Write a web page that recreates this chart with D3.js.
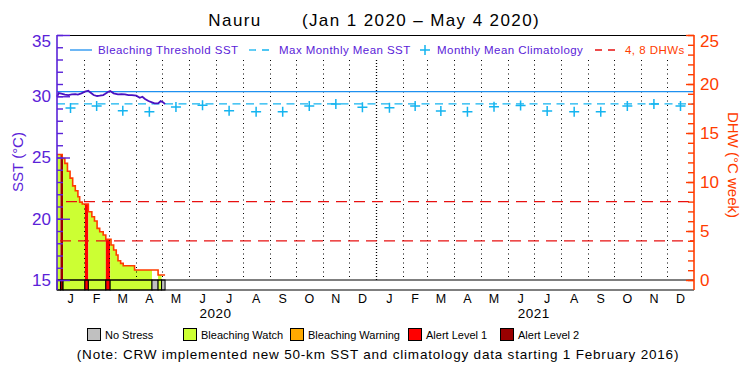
<!DOCTYPE html>
<html>
<head>
<meta charset="utf-8">
<script src="https://cdn.jsdelivr.net/npm/d3@7"></script>
<style>
  body { margin: 0; background: #fff; }
  svg { display: block; font-family: "Liberation Sans", Arial, sans-serif; }
</style>
</head>
<body>
<div class="chart"></div>
<script>
// SST (deg C), day offsets from Jan 1 2020
const sstDay = [0, 2, 5, 9, 13, 17, 21, 24, 28, 32, 36, 38, 42, 46, 49, 53, 55, 59, 61, 65, 70, 74, 78, 82, 86, 91, 95, 98, 101, 105, 109, 112, 116, 119, 122, 124];
const sstValue = [29.96, 30.26, 30.22, 30.14, 30.10, 30.16, 30.18, 30.14, 30.24, 30.37, 30.45, 30.32, 30.10, 30.02, 30.05, 30.10, 30.18, 30.37, 30.43, 30.24, 30.16, 30.18, 30.16, 30.10, 30.10, 30.05, 29.88, 29.96, 29.78, 29.61, 29.50, 29.42, 29.42, 29.61, 29.50, 29.36];

// monthly mean climatology, Jan 2020 .. Dec 2021
const climMonths = ['2020-01','2020-02','2020-03','2020-04','2020-05','2020-06','2020-07','2020-08','2020-09','2020-10','2020-11','2020-12',
                    '2021-01','2021-02','2021-03','2021-04','2021-05','2021-06','2021-07','2021-08','2021-09','2021-10','2021-11','2021-12'];
const climValue = [29.04, 29.20, 28.82, 28.74, 29.12, 29.26, 28.82, 28.74, 28.74, 29.20, 29.37, 29.10,
                   29.07, 29.20, 28.80, 28.74, 29.15, 29.24, 28.80, 28.74, 28.74, 29.20, 29.37, 29.20];
const mmm = 29.37;
const threshold = 30.37;
const dhwLines = [4, 8];

// DHW step values (day where the value starts)
const dhwDay = [0, 6, 9, 12, 15, 18, 21, 24, 26, 29, 36, 40, 43, 46, 49, 53, 56, 62, 65, 68, 70, 73, 76, 89, 116];
const dhwValue = [12.8, 12.4, 11.9, 11.1, 10.4, 9.6, 9.1, 8.5, 7.95, 7.76, 6.97, 6.46, 6.02, 5.27, 4.93, 4.59, 4.15, 3.57, 3.06, 2.55, 1.97, 1.70, 1.46, 1.02, 0.51];
const lastDay = 124;

// daily stress level periods (0 no stress .. 4 alert level 2)
const alertStart = [0, 4, 7, 32, 36, 56, 61, 109, 116, 120];
const alertLevel = [1, 4, 1, 3, 1, 3, 1, 0, 1, 0];

const stressNames = ['No Stress', 'Bleaching Watch', 'Bleaching Warning', 'Alert Level 1', 'Alert Level 2'];
const stressColors = ['#c0c0c0', '#ccff33', '#ffaa00', '#ff0000', '#990000'];
const monthLetters = ['J','F','M','A','M','J','J','A','S','O','N','D'];
const years = [2020, 2021];

const W = 750, H = 375;
const L = 57, R = 694, T = 35, B = 290, STRIP = 280;
const purple = '#5a22d8', orange = '#ff3c00', blue = '#1e90f0', cyan = '#14b4f0';

const day = d => new Date(Date.UTC(2020, 0, 1 + d));

const svg = d3.select('.chart').append('svg').attr('width', W).attr('height', H);

const x = d3.scaleUtc().domain([day(0), new Date(Date.UTC(2022, 0, 1))]).range([L, R]);
const ySst = d3.scaleLinear().domain([15, 35]).range([STRIP, T]);
const yDhw = d3.scaleLinear().domain([0, 25]).range([STRIP, T]);

// helper: DHW value on a given day (step lookup)
const dhwAt = d => dhwValue[d3.bisectRight(dhwDay, d) - 1];

// stress bars in the DHW area
alertStart.forEach((s, i) => {
  const e = i + 1 < alertStart.length ? alertStart[i + 1] : lastDay;
  const lvl = alertLevel[i];
  const days = d3.range(s, e + 1);
  if (lvl > 0) {
    const area = d3.area()
      .curve(d3.curveStepAfter)
      .x(d => x(day(d)))
      .y0(yDhw(0))
      .y1((d, j) => yDhw(dhwAt(j === days.length - 1 ? d - 1 : d)));
    svg.append('path').attr('d', area(days)).attr('fill', stressColors[lvl]);
  }
  // stress strip
  svg.append('rect')
    .attr('x', x(day(s))).attr('y', STRIP)
    .attr('width', x(day(e)) - x(day(s))).attr('height', B - STRIP)
    .attr('fill', stressColors[lvl]).attr('stroke', '#000').attr('stroke-width', 1);
});

// month gridlines
const monthStarts = d3.utcMonths(new Date(Date.UTC(2020, 1, 1)), new Date(Date.UTC(2022, 0, 1)));
svg.append('g').selectAll('line').data(monthStarts).join('line')
  .attr('x1', d => Math.round(x(d)) + 0.5).attr('x2', d => Math.round(x(d)) + 0.5)
  .attr('y1', 60).attr('y2', STRIP)
  .attr('stroke', '#000')
  .attr('stroke-width', d => d.getUTCMonth() === 0 ? 1.3 : 1)
  .attr('stroke-dasharray', d => d.getUTCMonth() === 0 ? '1,2' : '1,3.5');

// DHW reference lines
svg.append('g').selectAll('line').data(dhwLines).join('line')
  .attr('x1', (d, i) => i === 0 ? 60 : 66).attr('x2', R)
  .attr('y1', d => yDhw(d)).attr('y2', d => yDhw(d))
  .attr('stroke', '#e81010').attr('stroke-width', 1.2).attr('stroke-dasharray', '11,7');

// DHW outline
const dhwPts = dhwDay.map((d, i) => [d, dhwValue[i]]).concat([[lastDay, dhwValue[dhwValue.length - 1]]]);
svg.append('path')
  .attr('d', d3.line().curve(d3.curveStepAfter).x(d => x(day(d[0]))).y(d => yDhw(d[1]))(dhwPts))
  .attr('fill', 'none').attr('stroke', orange).attr('stroke-width', 1.6);

// threshold and MMM
svg.append('line').attr('x1', L).attr('x2', R)
  .attr('y1', ySst(threshold)).attr('y2', ySst(threshold))
  .attr('stroke', blue).attr('stroke-width', 1.3);
svg.append('line').attr('x1', L).attr('x2', R)
  .attr('y1', ySst(mmm)).attr('y2', ySst(mmm))
  .attr('stroke', cyan).attr('stroke-width', 1.3).attr('stroke-dasharray', '8,5.5');

// climatology pluses
const parseMonth = d3.utcParse('%Y-%m');
svg.append('g').selectAll('path').data(climValue).join('path')
  .attr('transform', (d, i) => {
    const m = parseMonth(climMonths[i]);
    const mid = new Date((+m + +d3.utcMonth.offset(m, 1)) / 2);
    return `translate(${x(mid)},${ySst(d)})`;
  })
  .attr('d', 'M-5,0H5M0,-5V5')
  .attr('stroke', cyan).attr('stroke-width', 1.5);

// SST line
svg.append('path')
  .attr('d', d3.line().x((d, i) => x(day(d))).y((d, i) => ySst(sstValue[i]))(sstDay))
  .attr('fill', 'none').attr('stroke', '#4a10c0').attr('stroke-width', 1.8);

// frame
svg.append('line').attr('x1', L).attr('x2', R).attr('y1', T + 0.5).attr('y2', T + 0.5).attr('stroke', '#000');
svg.append('line').attr('x1', L).attr('x2', R).attr('y1', STRIP).attr('y2', STRIP).attr('stroke', '#000').attr('stroke-width', 1.2);
svg.append('line').attr('x1', L).attr('x2', R).attr('y1', B).attr('y2', B).attr('stroke', '#000').attr('stroke-width', 1.2);

// left axis (SST)
const leftMinor = d3.axisLeft(ySst).tickValues(d3.range(15, 36)).tickSizeInner(-6).tickSizeOuter(0).tickFormat('');
const leftMajor = d3.axisLeft(ySst).tickValues([15, 20, 25, 30, 35]).tickSizeInner(-13).tickSizeOuter(0).tickPadding(6);
[leftMinor, leftMajor].forEach(ax => {
  const g = svg.append('g').attr('transform', `translate(${L},0)`).call(ax);
  g.select('.domain').remove();
  g.selectAll('line').attr('stroke', purple).attr('stroke-width', 1.4);
  g.selectAll('text').attr('fill', purple).style('font-size', '17px').attr('font-family', 'Liberation Sans')
    .attr('dy', d => d === 35 ? '0.65em' : '0.32em');
});
svg.append('line').attr('x1', L).attr('x2', L).attr('y1', T).attr('y2', B).attr('stroke', purple).attr('stroke-width', 1.6);

// right axis (DHW)
const rightMinor = d3.axisRight(yDhw).tickValues(d3.range(0, 26)).tickSizeInner(-6).tickSizeOuter(0).tickFormat('');
const rightMajor = d3.axisRight(yDhw).tickValues([0, 5, 10, 15, 20, 25]).tickSizeInner(-8).tickSizeOuter(0).tickPadding(6);
[rightMinor, rightMajor].forEach(ax => {
  const g = svg.append('g').attr('transform', `translate(${R},0)`).call(ax);
  g.select('.domain').remove();
  g.selectAll('line').attr('stroke', orange).attr('stroke-width', 1.4);
  g.selectAll('text').attr('fill', orange).style('font-size', '17px').attr('font-family', 'Liberation Sans')
    .attr('dy', d => d === 25 ? '0.65em' : '0.32em');
});
svg.append('line').attr('x1', R).attr('x2', R).attr('y1', T).attr('y2', B).attr('stroke', orange).attr('stroke-width', 1.6);

// month letters
const monthMids = d3.utcMonths(day(0), new Date(Date.UTC(2022, 0, 1)))
  .map(m => new Date((+m + +d3.utcMonth.offset(m, 1)) / 2));
svg.append('g').selectAll('text').data(monthMids).join('text')
  .attr('x', d => x(d)).attr('y', 303)
  .attr('text-anchor', 'middle').style('font-size', '12.5px')
  .text(d => monthLetters[d.getUTCMonth()]);
svg.append('g').selectAll('text').data(years).join('text')
  .attr('x', d => x(new Date(Date.UTC(d, 6, 1)))).attr('y', 318)
  .attr('text-anchor', 'middle').style('font-size', '13.5px').style('letter-spacing', '0.5px')
  .text(d => d);

// title and axis titles
svg.append('text').attr('x', 235).attr('y', 26).attr('text-anchor', 'middle')
  .style('font-size', '17px').style('letter-spacing', '1.4px').text('Nauru');
svg.append('text').attr('x', 421).attr('y', 26).attr('text-anchor', 'middle')
  .style('font-size', '17px').style('letter-spacing', '1.4px').text('(Jan 1 2020 \u2013 May 4 2020)');
svg.append('text').attr('transform', 'translate(23,162) rotate(-90)').attr('text-anchor', 'middle')
  .attr('fill', purple).style('font-size', '15px').text('SST (\u00b0C)');
svg.append('text').attr('transform', 'translate(728,165) rotate(90)').attr('text-anchor', 'middle')
  .attr('fill', orange).style('font-size', '15px').text('DHW (\u00b0C week)');

// top legend
const lg = svg.append('g').style('font-size', '11.5px').style('letter-spacing', '0.45px');
lg.append('line').attr('x1', 70).attr('x2', 92).attr('y1', 50).attr('y2', 50).attr('stroke', blue).attr('stroke-width', 1.3);
lg.append('text').attr('x', 98).attr('y', 54).attr('fill', purple).text('Bleaching Threshold SST');
lg.append('line').attr('x1', 249).attr('x2', 273).attr('y1', 50).attr('y2', 50).attr('stroke', cyan).attr('stroke-width', 1.3).attr('stroke-dasharray', '7,6');
lg.append('text').attr('x', 279).attr('y', 54).attr('fill', purple).text('Max Monthly Mean SST');
lg.append('path').attr('d', 'M420,50H430M425,45V55').attr('stroke', cyan).attr('stroke-width', 1.5);
lg.append('text').attr('x', 437).attr('y', 54).attr('fill', purple).text('Monthly Mean Climatology');
lg.append('line').attr('x1', 595).attr('x2', 618).attr('y1', 50).attr('y2', 50).attr('stroke', '#e81010').attr('stroke-width', 1.3).attr('stroke-dasharray', '7,6');
lg.append('text').attr('x', 625).attr('y', 54).attr('fill', orange).text('4, 8 DHWs');

// bottom legend
const boxX = [87, 183, 290, 408, 500];
const bl = svg.append('g').style('font-size', '11px');
stressNames.forEach((n, i) => {
  bl.append('rect').attr('x', boxX[i] + 0.5).attr('y', 328.5).attr('width', 13).attr('height', 12)
    .attr('fill', stressColors[i]).attr('stroke', '#000');
  bl.append('text').attr('x', boxX[i] + 18).attr('y', 339).text(n);
});
svg.append('text').attr('x', 378).attr('y', 359).attr('text-anchor', 'middle')
  .style('font-size', '13.5px').style('letter-spacing', '0.8px')
  .text('(Note: CRW implemented new 50-km SST and climatology data starting 1 February 2016)');
</script>
</body>
</html>
